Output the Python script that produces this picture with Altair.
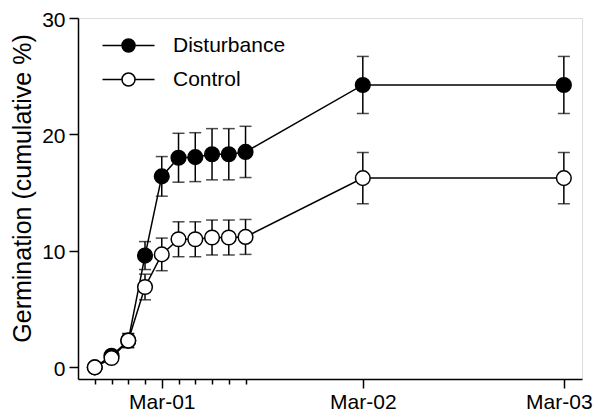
import altair as alt
import pandas as pd

# Observation times (UTC)
times = [
    "2000-02-29T16:00", "2000-02-29T18:00", "2000-02-29T20:00", "2000-02-29T22:00",
    "2000-03-01T00:00", "2000-03-01T02:00", "2000-03-01T04:00", "2000-03-01T06:00",
    "2000-03-01T08:00", "2000-03-01T10:00", "2000-03-02T00:00", "2000-03-03T00:00",
]
disturbance = [0.0, 1.0, 2.3, 9.6, 16.4, 18.0, 18.05, 18.3, 18.3, 18.5, 24.25, 24.25]
disturbance_se = [0.0, 0.3, 0.6, 1.2, 1.7, 2.1, 2.1, 2.2, 2.2, 2.2, 2.45, 2.45]
control = [0.0, 0.8, 2.3, 6.9, 9.7, 11.0, 11.0, 11.15, 11.15, 11.2, 16.25, 16.25]
control_se = [0.0, 0.3, 0.6, 1.1, 1.4, 1.5, 1.5, 1.5, 1.5, 1.5, 2.2, 2.2]
series = ["Disturbance", "Control"]
fills = ["black", "white"]
tick_times = [
    "2000-02-29T16:00", "2000-02-29T18:00", "2000-02-29T20:00", "2000-02-29T22:00",
    "2000-03-01T00:00", "2000-03-01T02:00", "2000-03-01T04:00", "2000-03-01T06:00",
    "2000-03-01T08:00", "2000-03-01T10:00", "2000-03-02T00:00", "2000-03-03T00:00",
]
x_limits = ["2000-02-29T14:00", "2000-03-03T02:10"]
y_ticks = [0, 10, 20, 30]

rows = []
for name, vals, ses in [("Disturbance", disturbance, disturbance_se), ("Control", control, control_se)]:
    for t, v, s in zip(times, vals, ses):
        rows.append({"time": t, "value": v, "low": v - s, "high": v + s, "group": name})
df = pd.DataFrame(rows)

to_ms = lambda s: int(pd.Timestamp(s, tz="UTC").value // 1_000_000)
tick_vals = [to_ms(t) for t in tick_times]
x_domain = [to_ms(t) for t in x_limits]

FONT = "Liberation Sans"

x_enc = alt.X(
    "time:T",
    scale=alt.Scale(type="utc", domain=x_domain),
    axis=alt.Axis(
        title=None,
        values=tick_vals,
        labelExpr="utchours(datum.value) == 0 ? utcFormat(datum.value, '%b-%d') : ''",
        tickSize={"condition": {"test": "utchours(datum.value) == 0", "value": 9}, "value": 5},
        labelOffset={"condition": {"test": "utcdate(datum.value) == 3 && utchours(datum.value) == 0",
                                   "value": -5}, "value": 0},
        grid=False,
        labelFontSize=21,
        labelPadding=3,
        labelFlush=False,
        labelOverlap=False,
        tickColor="black",
        tickWidth=1.5,
        domainColor="black",
        domainWidth=1.5,
        labelColor="black",
        labelFont=FONT,
    ),
)
y_scale = alt.Scale(domain=[-1, 30], nice=False, zero=False)
y_enc = alt.Y(
    "value:Q",
    scale=y_scale,
    axis=alt.Axis(
        title="Germination (cumulative %)",
        values=y_ticks,
        grid=False,
        tickSize=9,
        tickWidth=1.5,
        tickColor="black",
        domainColor="black",
        domainWidth=1.5,
        labelFontSize=21,
        labelColor="black",
        labelFont=FONT,
        labelPadding=4,
        labelOffset=2,
        titleFontSize=25,
        titleFontWeight="normal",
        titleFont=FONT,
        titleColor="black",
        titlePadding=6,
        titleY=170,
    ),
)

fill_scale = alt.Scale(domain=series, range=fills)
legend_path = "M-4,0H-1 M1,0H4 M1,0A1,1,0,1,1,-1,0A1,1,0,1,1,1,0"

layers = []
for name in series:
    base = alt.Chart(df).transform_filter(alt.datum.group == name)
    rules = base.mark_rule(color="black", strokeWidth=1.5).encode(
        x=x_enc, y=alt.Y("low:Q", scale=y_scale), y2="high:Q"
    )
    cap_lo = base.mark_tick(color="black", thickness=1.5, size=12, orient="horizontal").encode(
        x=x_enc, y=alt.Y("low:Q", scale=y_scale)
    )
    cap_hi = base.mark_tick(color="black", thickness=1.5, size=12, orient="horizontal").encode(
        x=x_enc, y=alt.Y("high:Q", scale=y_scale)
    )
    line = base.mark_line(color="black", strokeWidth=1.5).encode(x=x_enc, y=y_enc)
    pts = base.mark_point(filled=True, size=215, stroke="black", strokeWidth=1.5, opacity=1).encode(
        x=x_enc,
        y=y_enc,
        fill=alt.Fill(
            "group:N",
            scale=fill_scale,
            legend=alt.Legend(
                title=None,
                orient="none",
                legendX=40,
                legendY=17,
                symbolType=legend_path,
                symbolSize=169,
                symbolStrokeColor="black",
                symbolStrokeWidth=1.5,
                symbolOpacity=1,
                labelFontSize=21,
                labelFont=FONT,
                labelColor="black",
                labelOffset=34,
                rowPadding=12,
                padding=0,
            ),
        ),
    )
    layers += [rules, cap_lo, cap_hi, line, pts]

chart = (
    alt.layer(*layers)
    .properties(width=504, height=361, autosize=alt.AutoSizeParams(type="none"),
                padding={"left": 70, "top": 10, "right": 11, "bottom": 34})
    .configure_view(stroke=None)
    .configure(background="white")
)

chart.save("out.html", embed_options={"renderer": "svg", "actions": False})
